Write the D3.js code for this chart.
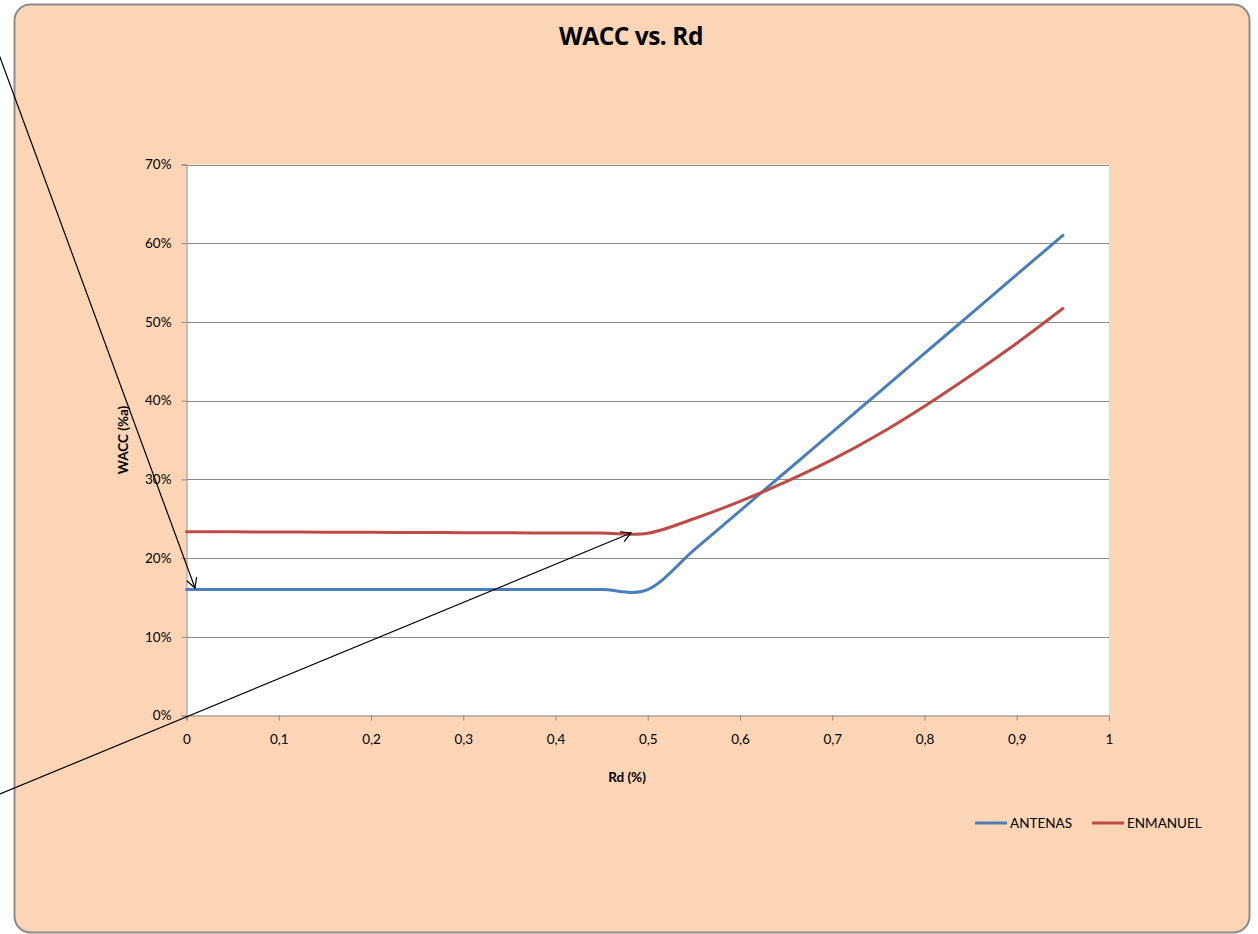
<!DOCTYPE html>
<html>
<head>
<meta charset="utf-8">
<script src="https://cdn.jsdelivr.net/npm/d3@7"></script>
<style>
  html, body { margin: 0; padding: 0; background: #ffffff; }
  svg { display: block; }
</style>
</head>
<body>
<svg id="chart" width="1258" height="934"></svg>
<script>
// ---- data ----
const rdValues = [0, 0.05, 0.1, 0.15, 0.2, 0.25, 0.3, 0.35, 0.4, 0.45, 0.5,
                  0.55, 0.6, 0.65, 0.7, 0.75, 0.8, 0.85, 0.9, 0.95];
const antenas = [0.16, 0.16, 0.16, 0.16, 0.16, 0.16, 0.16, 0.16, 0.16, 0.16, 0.16,
                 0.21, 0.26, 0.31, 0.36, 0.41, 0.46, 0.51, 0.56, 0.61];
const enmanuel = [0.2335, 0.2333, 0.2331, 0.2329, 0.2327, 0.2325, 0.2323, 0.2321, 0.2319, 0.2317, 0.2315,
                  0.250, 0.272, 0.297, 0.325, 0.357, 0.393, 0.432, 0.473, 0.517];
const seriesNames = ["ANTENAS", "ENMANUEL"];
const seriesColors = ["#4A7EBB", "#BE4B48"];
const xTicks = [0, 0.1, 0.2, 0.3, 0.4, 0.5, 0.6, 0.7, 0.8, 0.9, 1];
const yTicks = [0, 0.1, 0.2, 0.3, 0.4, 0.5, 0.6, 0.7];
const titleText = "WACC vs. Rd";
const xTitle = "Rd (%)";
const yTitle = "WACC (%a)";

// ---- layout ----
const svg = d3.select("#chart");
const font = "'Lato', 'Open Sans', sans-serif";
const fs = 13.5;
const plot = { left: 186.5, right: 1109, top: 164.5, bottom: 715.5 };

svg.append("rect")
  .attr("x", 14.5).attr("y", 4.5)
  .attr("width", 1235).attr("height", 928)
  .attr("rx", 16).attr("ry", 16)
  .attr("fill", "#FBD5B5")
  .attr("stroke", "#8C8C8C").attr("stroke-width", 2);

svg.append("text")
  .attr("x", 631).attr("y", 45)
  .attr("text-anchor", "middle")
  .attr("font-family", "'Open Sans', sans-serif")
  .attr("font-weight", "bold").attr("font-size", 24.5)
  .attr("letter-spacing", -0.5)
  .attr("fill", "#000")
  .text(titleText);

const x = d3.scaleLinear().domain([0, 1]).range([plot.left, plot.right]);
const y = d3.scaleLinear().domain([0, 0.7]).range([plot.bottom, plot.top]);

svg.append("rect")
  .attr("x", plot.left).attr("y", plot.top)
  .attr("width", plot.right - plot.left).attr("height", plot.bottom - plot.top)
  .attr("fill", "#ffffff");

// gridlines
svg.append("g").selectAll("line").data(yTicks.slice(1)).join("line")
  .attr("x1", plot.left).attr("x2", plot.right)
  .attr("y1", d => Math.round(y(d)) + 0.5).attr("y2", d => Math.round(y(d)) + 0.5)
  .attr("stroke", "#8A8A8A").attr("stroke-width", 1);

// y axis
const yAxis = d3.axisLeft(y).tickValues(yTicks).tickSize(5).tickPadding(10)
  .tickFormat(d => Math.round(d * 100) + "%");
const gy = svg.append("g").attr("transform", `translate(${plot.left},0)`).call(yAxis);
gy.select(".domain").attr("stroke", "#8A8A8A");
gy.selectAll(".tick line").attr("stroke", "#8A8A8A");
gy.selectAll("text").attr("font-family", font).attr("font-size", fs).attr("fill", "#000");

// x axis
const xAxis = d3.axisBottom(x).tickValues(xTicks).tickSize(5).tickPadding(14)
  .tickFormat(d => String(d).replace(".", ","));
const gx = svg.append("g").attr("transform", `translate(0,${plot.bottom})`).call(xAxis);
gx.select(".domain").attr("stroke", "#8A8A8A");
gx.selectAll(".tick line").attr("stroke", "#8A8A8A");
gx.selectAll("text").attr("font-family", font).attr("font-size", fs).attr("fill", "#000");

// axis titles
svg.append("text")
  .attr("x", 627).attr("y", 782)
  .attr("text-anchor", "middle")
  .attr("font-family", font).attr("font-weight", "bold").attr("font-size", fs)
  .text(xTitle);
svg.append("text")
  .attr("transform", "translate(128,440) rotate(-90)")
  .attr("text-anchor", "middle")
  .attr("font-family", font).attr("font-weight", "bold").attr("font-size", fs)
  .text(yTitle);

// series
const line = d3.line()
  .x(d => x(d[0])).y(d => y(d[1]))
  .curve(d3.curveCardinal.tension(0));
[antenas, enmanuel].forEach((vals, i) => {
  svg.append("path")
    .datum(rdValues.map((r, j) => [r, vals[j]]))
    .attr("d", line)
    .attr("fill", "none")
    .attr("stroke", seriesColors[i])
    .attr("stroke-width", 3)
    .attr("stroke-linecap", "round");
});

// legend
const legendItems = [{ x: 975 }, { x: 1092 }];
seriesNames.forEach((name, i) => {
  const lx = legendItems[i].x;
  svg.append("line")
    .attr("x1", lx).attr("x2", lx + 32)
    .attr("y1", 823).attr("y2", 823)
    .attr("stroke", seriesColors[i]).attr("stroke-width", 3);
  svg.append("text")
    .attr("x", lx + 35).attr("y", 828)
    .attr("font-family", font).attr("font-size", fs)
    .text(name);
});

// annotation arrows
function arrow(x1, y1, x2, y2) {
  svg.append("line")
    .attr("x1", x1).attr("y1", y1).attr("x2", x2).attr("y2", y2)
    .attr("stroke", "#000").attr("stroke-width", 1.2);
  const ang = Math.atan2(y2 - y1, x2 - x1);
  const L = 11, spread = 0.5;
  const pts = [
    [x2 - L * Math.cos(ang - spread), y2 - L * Math.sin(ang - spread)],
    [x2, y2],
    [x2 - L * Math.cos(ang + spread), y2 - L * Math.sin(ang + spread)]
  ];
  svg.append("path")
    .attr("d", d3.line()(pts))
    .attr("fill", "none").attr("stroke", "#000").attr("stroke-width", 1.2);
}
arrow(-21, 0, 195, 588);
arrow(0, 794, 631, 533);
</script>
</body>
</html>
